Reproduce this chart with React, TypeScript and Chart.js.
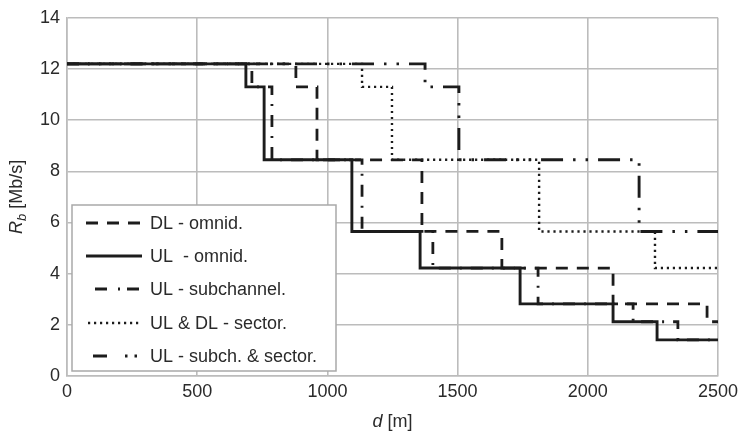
import React, { useEffect, useRef } from "react";
import { Chart, registerables } from "chart.js";

Chart.register(...registerables);

// ---- data ----
const xTicks = [0, 500, 1000, 1500, 2000, 2500];
const yTicks = [0, 2, 4, 6, 8, 10, 12, 14];

const seriesNames = [
  "DL - omnid.",
  "UL  - omnid.",
  "UL - subchannel.",
  "UL & DL - sector.",
  "UL - subch. & sector.",
];

// step change points (d in m) and rate that starts at that point (Mb/s)
const dlOmniDist = [0, 879, 960, 1363, 1670, 2097, 2458, 2500];
const dlOmniRate = [12.2, 11.3, 8.45, 5.65, 4.22, 2.82, 2.12, 2.12];

const ulOmniDist = [0, 687, 757, 1094, 1356, 1740, 2097, 2266, 2500];
const ulOmniRate = [12.2, 11.3, 8.45, 5.65, 4.22, 2.82, 2.12, 1.41, 1.41];

const ulSubDist = [0, 710, 787, 1133, 1405, 1809, 2174, 2346, 2500];
const ulSubRate = [12.2, 11.3, 8.45, 5.65, 4.22, 2.82, 2.12, 1.41, 1.41];

const sectorDist = [0, 1133, 1248, 1813, 2258, 2500];
const sectorRate = [12.2, 11.3, 8.45, 5.65, 4.22, 4.22];

const subSectorDist = [0, 1375, 1505, 2197, 2500];
const subSectorRate = [12.2, 11.3, 8.45, 5.65, 5.65];

// ---- styles ----
const FONT = "'Liberation Sans', Arial, sans-serif";
const LINE = "#1c1c1c";
const GRID = "#bcbcbc";
const TEXT = "#2a2a2a";

const styles = [
  { dash: [12, 9], width: 2.8, cap: "butt", legendDash: [12, 9], lx0: 86, lx1: 142 },
  { dash: [], width: 2.9, cap: "butt", legendDash: [], lx0: 86, lx1: 142 },
  { dash: [12, 9, 2, 9], width: 2.8, cap: "butt", legendDash: [12, 11, 2, 7], lx0: 95, lx1: 142 },
  { dash: [2.2, 3.8], width: 2.4, cap: "butt", legendDash: [2.2, 3.8], lx0: 88, lx1: 141 },
  { dash: [22, 10, 2.5, 10, 2.5, 10], width: 2.9, cap: "butt", legendDash: [14, 18, 2.5, 7, 2.5, 40], lx0: 93, lx1: 142 },
];

const seriesData = [
  [dlOmniDist, dlOmniRate],
  [ulOmniDist, ulOmniRate],
  [ulSubDist, ulSubRate],
  [sectorDist, sectorRate],
  [subSectorDist, subSectorRate],
];

const legendPlugin = {
  id: "customLegend",
  afterDatasetsDraw(chart: any) {
    const ctx = chart.ctx;
    ctx.save();
    const bx = 72, by = 205, bw = 264, bh = 166;
    ctx.fillStyle = "#ffffff";
    ctx.fillRect(bx, by, bw, bh);
    ctx.strokeStyle = "#a9a9a9";
    ctx.lineWidth = 1.5;
    ctx.setLineDash([]);
    ctx.strokeRect(bx, by, bw, bh);
    const rowY = [223, 256, 289, 323, 356];
    seriesNames.forEach((name, i) => {
      const s = styles[i];
      const y = rowY[i];
      ctx.beginPath();
      ctx.strokeStyle = LINE;
      ctx.lineWidth = s.width;
      ctx.lineCap = s.cap;
      ctx.setLineDash(s.legendDash);
      ctx.moveTo(s.lx0, y);
      ctx.lineTo(s.lx1, y);
      ctx.stroke();
      ctx.setLineDash([]);
      ctx.fillStyle = TEXT;
      ctx.font = `18px ${FONT}`;
      ctx.textAlign = "left";
      ctx.textBaseline = "middle";
      ctx.fillText(name, 150, y + 1);
    });
    ctx.restore();
  },
  afterDraw(chart: any) {
    const ctx = chart.ctx;
    const area = chart.chartArea;
    ctx.save();
    ctx.fillStyle = TEXT;
    ctx.textBaseline = "middle";
    // x title: d [m]
    const xa = "d";
    const xb = " [m]";
    ctx.font = `italic 18px ${FONT}`;
    const wa = ctx.measureText(xa).width;
    ctx.font = `18px ${FONT}`;
    const wb = ctx.measureText(xb).width;
    const cx = (area.left + area.right) / 2;
    const x = cx - (wa + wb) / 2;
    const ty = 422;
    ctx.textAlign = "left";
    ctx.font = `italic 18px ${FONT}`;
    ctx.fillText(xa, x, ty);
    ctx.font = `18px ${FONT}`;
    ctx.fillText(xb, x + wa, ty);

    // y title: R_b [Mb/s]
    const cy = (area.top + area.bottom) / 2;
    ctx.translate(17, cy);
    ctx.rotate(-Math.PI / 2);
    ctx.font = `italic 18px ${FONT}`;
    const w1 = ctx.measureText("R").width;
    ctx.font = `italic 13px ${FONT}`;
    const w2 = ctx.measureText("b").width;
    ctx.font = `18px ${FONT}`;
    const w3 = ctx.measureText(" [Mb/s]").width;
    let p = -(w1 + w2 + w3) / 2;
    ctx.font = `italic 18px ${FONT}`;
    ctx.fillText("R", p, 0);
    p += w1;
    ctx.font = `italic 13px ${FONT}`;
    ctx.fillText("b", p, 5);
    p += w2;
    ctx.font = `18px ${FONT}`;
    ctx.fillText(" [Mb/s]", p, 0);
    ctx.restore();
  },
};

export default function App() {
  const ref = useRef<HTMLCanvasElement | null>(null);

  useEffect(() => {
    document.body.style.margin = "0";
    const canvas = ref.current;
    if (!canvas) return;
    const datasets = seriesData.map(([dist, rate], i) => ({
      label: seriesNames[i],
      data: dist.map((d, j) => ({ x: d, y: rate[j] })),
      borderColor: LINE,
      backgroundColor: LINE,
      borderWidth: styles[i].width,
      borderDash: styles[i].dash,
      borderCapStyle: styles[i].cap,
      borderJoinStyle: "miter",
      stepped: "before",
      pointRadius: 0,
      fill: false,
      tension: 0,
    }));
    const order = [4, 3, 2, 0, 1];
    const chart = new Chart(canvas, {
      type: "line",
      data: { datasets: order.map((i) => datasets[i]) as any },
      options: {
        responsive: false,
        animation: false,
        devicePixelRatio: 1,
        layout: { padding: { top: 14, right: 26, left: 0, bottom: 0 } },
        plugins: { legend: { display: false }, tooltip: { enabled: false } },
        scales: {
          x: {
            type: "linear",
            min: xTicks[0],
            max: xTicks[xTicks.length - 1],
            afterBuildTicks: (scale: any) => {
              scale.ticks = xTicks.map((v) => ({ value: v }));
            },
            afterFit: (scale: any) => {
              scale.height = 62;
            },
            grid: { color: GRID, lineWidth: 1.6, drawTicks: false },
            border: { color: GRID, width: 1.6 },
            ticks: {
              color: TEXT,
              padding: 5,
              font: { family: FONT, size: 18 },
              maxRotation: 0,
              autoSkip: false,
              callback: (v: any) => String(v),
            },
          },
          y: {
            type: "linear",
            min: yTicks[0],
            max: yTicks[yTicks.length - 1],
            afterBuildTicks: (scale: any) => {
              scale.ticks = yTicks.map((v) => ({ value: v }));
            },
            afterFit: (scale: any) => {
              scale.width = 67;
            },
            grid: { color: GRID, lineWidth: 1.6, drawTicks: false },
            border: { color: GRID, width: 1.6 },
            ticks: {
              color: TEXT,
              padding: 7,
              font: { family: FONT, size: 18 },
              autoSkip: false,
              callback: (v: any) => String(v),
            },
          },
        },
      },
      plugins: [legendPlugin],
    } as any);
    return () => chart.destroy();
  }, []);

  return (
    <div style={{ width: 744, height: 438, background: "#fff" }}>
      <canvas ref={ref} width={744} height={438} style={{ display: "block" }} />
    </div>
  );
}
